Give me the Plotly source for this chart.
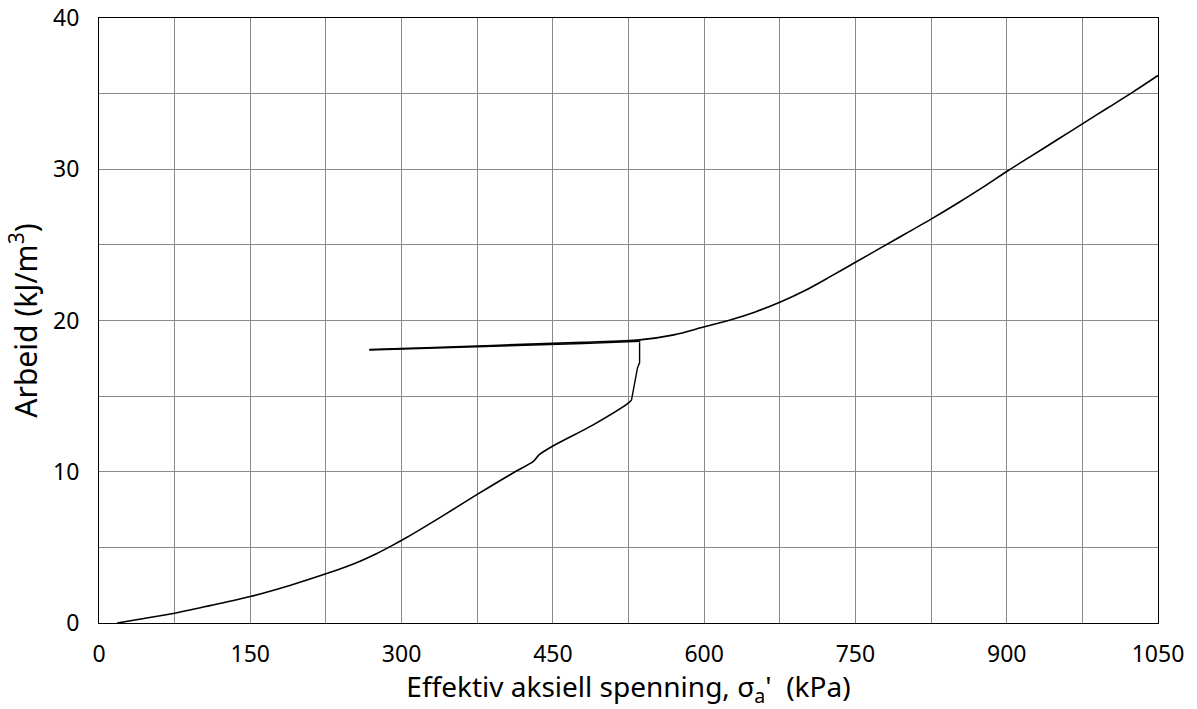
import plotly.graph_objects as go

# Loading branch (lower curve)
load_x = [18, 40, 75, 110, 150, 190, 225, 245, 260, 275, 290, 305, 340, 375, 410, 430, 433, 436, 450, 490, 525, 528]
load_y = [0.0, 0.25, 0.65, 1.15, 1.75, 2.5, 3.25, 3.72, 4.12, 4.58, 5.1, 5.65, 7.05, 8.5, 9.9, 10.65, 10.85, 11.1, 11.7, 13.1, 14.55, 14.75]

# Jump at end of loading, then unloading
jump_x = [528, 531, 534, 536, 536]
jump_y = [14.75, 15.8, 16.9, 17.2, 18.7]
unload_x = [536, 480, 420, 360, 300, 268]
unload_y = [18.62, 18.48, 18.35, 18.22, 18.1, 18.05]

# Reloading branch and continuation
reload_x = [268, 300, 360, 420, 480, 536, 570, 600, 625, 650, 675, 700, 725, 750, 775, 800, 825, 850, 875, 900, 925, 950, 975, 1000, 1025, 1050]
reload_y = [18.08, 18.15, 18.28, 18.42, 18.56, 18.72, 19.05, 19.58, 20.02, 20.55, 21.2, 21.98, 22.9, 23.85, 24.8, 25.75, 26.7, 27.7, 28.75, 29.85, 30.9, 31.95, 33.0, 34.05, 35.1, 36.2]

fig = go.Figure()
fig.add_trace(go.Scatter(x=load_x, y=load_y, mode="lines",
                         line=dict(color="black", width=1.6, shape="spline", smoothing=0.8),
                         showlegend=False, hoverinfo="skip"))
fig.add_trace(go.Scatter(x=jump_x + unload_x, y=jump_y + unload_y, mode="lines",
                         line=dict(color="black", width=1.4),
                         showlegend=False, hoverinfo="skip"))
fig.add_trace(go.Scatter(x=reload_x, y=reload_y, mode="lines",
                         line=dict(color="black", width=1.6, shape="spline", smoothing=0.8),
                         showlegend=False, hoverinfo="skip"))

font = "Noto Sans, Open Sans, sans-serif"
grid = "#8a8a8a"
axis_common = dict(showline=True, linecolor="black", linewidth=1, mirror=True,
                   gridcolor=grid, gridwidth=1, zeroline=False, ticks="",
                   automargin=False,
                   tickfont=dict(family=font, size=23, color="black"))

fig.update_xaxes(range=[0, 1050], dtick=150, tick0=0, ticklabelstandoff=10,
                 minor=dict(dtick=75, showgrid=True, gridcolor=grid, gridwidth=1),
                 title=dict(text="Effektiv aksiell spenning, σ<sub>a</sub>'  (kPa)",
                            font=dict(family=font, size=28, color="black"), standoff=4),
                 **axis_common)
fig.update_yaxes(range=[0, 40], dtick=10, tick0=0, ticklabelstandoff=14,
                 minor=dict(dtick=5, showgrid=True, gridcolor=grid, gridwidth=1),
                 title=dict(text="Arbeid (kJ/m<sup>3</sup>)",
                            font=dict(family=font, size=30, color="black"), standoff=6),
                 **axis_common)

fig.update_layout(width=1197, height=709, plot_bgcolor="white", paper_bgcolor="white",
                  margin=dict(l=99, r=39, t=18, b=86))

fig.write_html("out.html", config={"displayModeBar": False},
               post_script="document.body.style.margin='0';")
